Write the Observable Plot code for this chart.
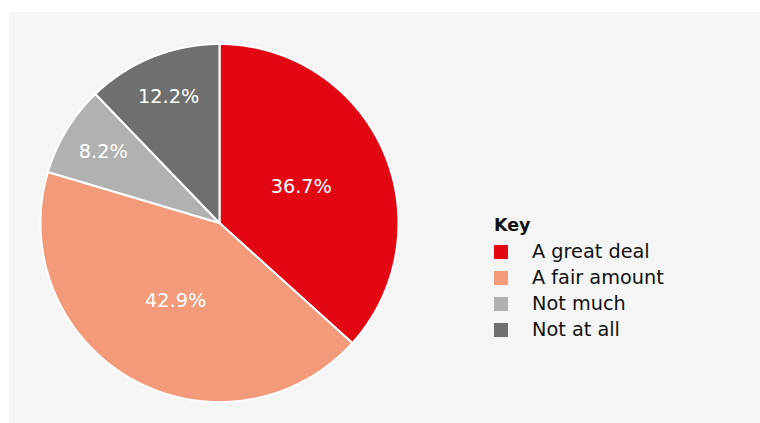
<!DOCTYPE html>
<html>
<head>
<meta charset="utf-8">
<script src="https://cdn.jsdelivr.net/npm/d3@7"></script>
<script src="https://cdn.jsdelivr.net/npm/@observablehq/plot@0.6"></script>
<style>
  html, body { margin: 0; padding: 0; background: #ffffff; }
  #wrap { position: relative; width: 760px; height: 423px; overflow: hidden; font-family: "DejaVu Sans", sans-serif; }
  #panel { position: absolute; left: 9px; top: 12px; right: 0; bottom: 0; background: #f5f5f5; }
  #chart { position: absolute; left: 0; top: 0; }
  #legend { position: absolute; left: 494px; top: 212px; color: #111; }
  #legend .title { font-weight: bold; font-size: 17.5px; line-height: 26px; height: 27px; }
  #legend .row { display: flex; align-items: center; height: 26px; font-size: 19.3px; line-height: 26px; }
  #legend .sw { width: 14px; height: 14px; margin-right: 24px; }
</style>
</head>
<body>
<div id="wrap">
  <div id="panel"></div>
  <div id="chart"></div>
  <div id="legend"></div>
</div>
<script>
const categories = ["A great deal", "A fair amount", "Not much", "Not at all"];
const values = [36.7, 42.9, 8.2, 12.2];
const labels = ["36.7%", "42.9%", "8.2%", "12.2%"];
const colors = ["#e30613", "#f29a7a", "#b1b1b1", "#6f6f6f"];

const data = categories.map((c, i) => ({cat: c, value: values[i], label: labels[i]}));
const arcs = d3.pie().sort(null).value(d => d.value)(data);

// Polygon outline of each slice in unit coordinates (angle 0 = 12 o'clock, clockwise)
const pts = [];
for (const a of arcs) {
  const n = Math.max(2, Math.ceil((a.endAngle - a.startAngle) / (Math.PI / 360)));
  pts.push({cat: a.data.cat, x: 0, y: 0});
  for (let k = 0; k <= n; k++) {
    const t = a.startAngle + (a.endAngle - a.startAngle) * k / n;
    pts.push({cat: a.data.cat, x: Math.sin(t), y: Math.cos(t)});
  }
  pts.push({cat: a.data.cat, x: 0, y: 0});
}

// Label positions: small slices pushed outward
const labelPts = arcs.map(a => {
  const m = (a.startAngle + a.endAngle) / 2;
  const r = a.data.value < 15 ? 0.76 : 0.5;
  return {x: r * Math.sin(m), y: r * Math.cos(m), label: a.data.label};
});

const cx = 219, cy = 222.5, R = 179;
const chart = Plot.plot({
  width: 760,
  height: 423,
  margin: 0,
  x: {domain: [-1, 1], range: [cx - R, cx + R], axis: null},
  y: {domain: [-1, 1], range: [cy + R, cy - R], axis: null},
  color: {domain: categories, range: colors},
  style: {background: "transparent", fontFamily: "DejaVu Sans, sans-serif"},
  marks: [
    Plot.line(pts, {x: "x", y: "y", z: "cat", fill: "cat", stroke: "white", strokeWidth: 2, strokeLinejoin: "miter", curve: "linear"}),
    Plot.text(labelPts, {x: "x", y: "y", text: "label", fill: "white", fontSize: 19.3})
  ]
});
document.getElementById("chart").appendChild(chart);

const legend = document.getElementById("legend");
const title = document.createElement("div");
title.className = "title";
title.textContent = "Key";
legend.appendChild(title);
categories.forEach((c, i) => {
  const row = document.createElement("div");
  row.className = "row";
  const sw = document.createElement("span");
  sw.className = "sw";
  sw.style.background = colors[i];
  const t = document.createElement("span");
  t.textContent = c;
  row.appendChild(sw);
  row.appendChild(t);
  legend.appendChild(row);
});
</script>
</body>
</html>
